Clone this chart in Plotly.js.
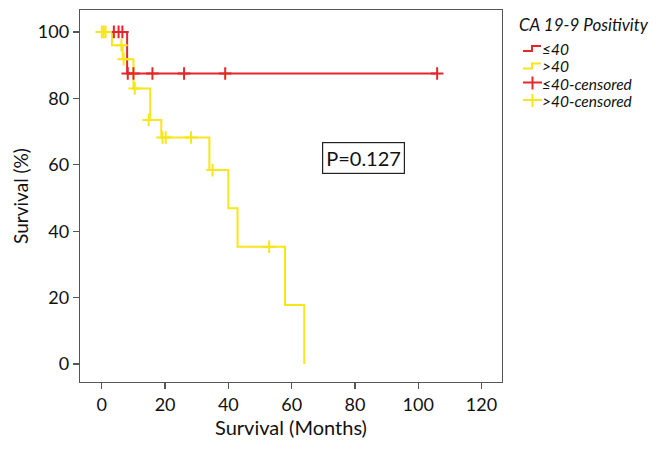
<!DOCTYPE html>
<html>
<head>
<meta charset="utf-8">
<script src="https://cdn.plot.ly/plotly-3.0.1.min.js"></script>
<style>html,body{margin:0;padding:0;background:#fff;}#chart{width:658px;height:453px;}</style>
</head>
<body>
<div id="chart"></div>
<script>
// Kaplan-Meier step curves (months, survival %)
const lowTimes = [0, 8, 106];
const lowSurv = [100, 87.5, 87.5];
const highTimes = [0, 3.2, 6.6, 10, 15.3, 18.8, 34, 40, 42.9, 57.9, 64];
const highSurv = [100, 96, 91.8, 83, 73.5, 68.2, 58.4, 46.9, 35.3, 17.8, 0];
// censored observations
const lowCensTimes = [3.8, 5.3, 6.5, 8.2, 10, 16, 26, 39, 106];
const lowCensSurv = [100, 100, 100, 87.5, 87.5, 87.5, 87.5, 87.5, 87.5];
const highCensTimes = [0, 0.6, 1.2, 6.2, 6.9, 10.4, 14.8, 19.2, 20.2, 28.2, 35, 52.9];
const highCensSurv = [100, 100, 100, 96, 91.8, 83, 73.5, 68.2, 68.2, 68.2, 58.4, 35.3];
const seriesNames = ['\u226440', '>40', '\u226440-censored', '>40-censored'];
const legendTitle = 'CA 19-9 Positivity';
const xTicks = [0, 20, 40, 60, 80, 100, 120];
const yTicks = [0, 20, 40, 60, 80, 100];
const pText = 'P=0.127';

const RED = '#e4262b';
const YEL = '#f6e61a';
const FONT = 'Lato, "Open Sans", sans-serif';
const colors = [RED, YEL, RED, YEL];

const traces = [
  {x: lowTimes, y: lowSurv, mode: 'lines', line: {shape: 'hv', color: RED, width: 2}, name: seriesNames[0]},
  {x: highTimes, y: highSurv, mode: 'lines', line: {shape: 'hv', color: YEL, width: 2}, name: seriesNames[1]},
  {x: lowCensTimes, y: lowCensSurv, mode: 'markers', marker: {symbol: 'cross-thin', size: 9, color: RED, line: {color: RED, width: 2}}, name: seriesNames[2]},
  {x: highCensTimes, y: highCensSurv, mode: 'markers', marker: {symbol: 'cross-thin', size: 9, color: YEL, line: {color: YEL, width: 2}}, name: seriesNames[3]}
];

// Plot area geometry (pixels) used to place the custom legend in paper coordinates
const M = {l: 80, r: 156, t: 10, b: 71};
const W = 658, H = 453;
const PW = W - M.l - M.r, PH = H - M.t - M.b;
const px = v => (v - M.l) / PW;
const py = v => (H - M.b - v) / PH;

const legendRowsY = [48.5, 66, 83.5, 101];
const annotations = [{
  x: 82.8, y: 62, xref: 'x', yref: 'y', text: pText, showarrow: false,
  font: {family: FONT, size: 20, color: '#111'},
  bordercolor: '#222', borderwidth: 1.2, borderpad: 3, bgcolor: '#fff'
}, {
  x: px(518), y: py(25), xref: 'paper', yref: 'paper', xanchor: 'left', yanchor: 'middle',
  text: '<i>' + legendTitle + '</i>', showarrow: false, borderpad: 0,
  font: {family: FONT, size: 17, color: '#111'}
}];
const shapes = [];
seriesNames.forEach((nm, i) => {
  const cy = legendRowsY[i];
  annotations.push({
    x: px(541), y: py(cy), xref: 'paper', yref: 'paper', xanchor: 'left', yanchor: 'middle',
    text: '<i>' + nm + '</i>', showarrow: false, borderpad: 0,
    font: {family: FONT, size: 15.5, color: '#111'}
  });
  if (i < 2) {
    const lo = py(cy + 2.5), hi = py(cy - 2.5);
    shapes.push({
      type: 'path', xref: 'paper', yref: 'paper',
      path: 'M ' + px(523) + ' ' + lo + ' L ' + px(532) + ' ' + lo + ' L ' + px(532) + ' ' + hi + ' L ' + px(541) + ' ' + hi,
      line: {color: colors[i], width: 2}
    });
  } else {
    shapes.push({type: 'line', xref: 'paper', yref: 'paper', x0: px(523), x1: px(542), y0: py(cy - 1), y1: py(cy - 1), line: {color: colors[i], width: 2}});
    shapes.push({type: 'line', xref: 'paper', yref: 'paper', x0: px(532.5), x1: px(532.5), y0: py(cy - 7), y1: py(cy + 6), line: {color: colors[i], width: 2}});
  }
});

const axisCommon = {
  showgrid: false, zeroline: false, showline: true, mirror: true, automargin: false,
  linecolor: '#555', linewidth: 1.3, ticks: 'outside', ticklen: 6, tickwidth: 1.3, tickcolor: '#555',
  tickfont: {family: FONT, size: 18, color: '#111'}
};

const layout = {
  width: W, height: H,
  margin: {l: M.l, r: M.r, t: M.t, b: M.b, autoexpand: false},
  paper_bgcolor: '#fff', plot_bgcolor: '#fff',
  font: {family: FONT, color: '#111'},
  xaxis: Object.assign({}, axisCommon, {
    range: [-6.9, 126.5], tickvals: xTicks,
    title: {text: 'Survival (Months)', font: {family: FONT, size: 20, color: '#111'}, standoff: 5}
  }),
  yaxis: Object.assign({}, axisCommon, {
    range: [-5.4, 106.6], tickvals: yTicks,
    title: {text: 'Survival (%)', font: {family: FONT, size: 19, color: '#111'}, standoff: 4}
  }),
  showlegend: false,
  shapes: shapes,
  annotations: annotations
};

Plotly.newPlot('chart', traces, layout, {displayModeBar: false, staticPlot: true});
</script>
</body>
</html>
